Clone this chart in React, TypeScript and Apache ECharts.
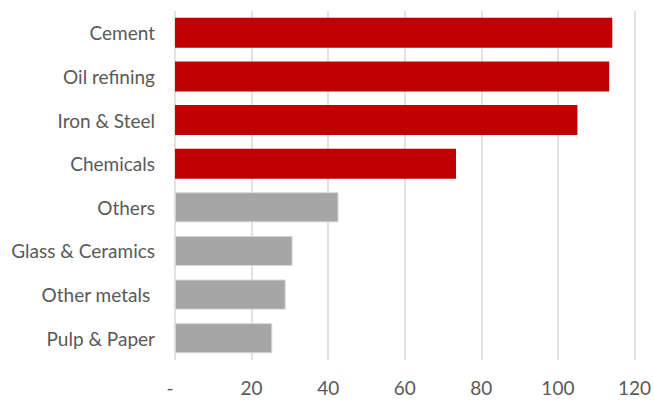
import React, { useEffect, useRef } from "react";
import * as echarts from "echarts";

const categories = [
  "Cement",
  "Oil refining",
  "Iron & Steel",
  "Chemicals",
  "Others",
  "Glass & Ceramics",
  "Other metals ",
  "Pulp & Paper",
];
const values = [114.2, 113.4, 105.1, 73.4, 42.7, 30.7, 28.9, 25.4];
const highlighted = [true, true, true, true, false, false, false, false];
const xTicks = { min: 0, max: 120, interval: 20 };

export default function App() {
  const ref = useRef<HTMLDivElement>(null);
  useEffect(() => {
    if (!ref.current) return;
    const chart = echarts.init(ref.current, null, { renderer: "svg" });
    chart.setOption({
      animation: false,
      backgroundColor: "#ffffff",
      grid: { left: 175, right: 18, top: 11, bottom: 41, containLabel: false },
      xAxis: {
        type: "value",
        min: xTicks.min,
        max: xTicks.max,
        interval: xTicks.interval,
        axisLine: { show: false },
        axisTick: { show: false },
        splitLine: { show: true, lineStyle: { color: "#d9d9d9", width: 1.5 } },
        axisLabel: {
          margin: 18,
          color: "#595959",
          fontFamily: "Lato",
          fontSize: 19,
          formatter: (v: number) => (v === 0 ? "-  " : String(v)),
        },
      },
      yAxis: {
        type: "category",
        data: categories,
        inverse: true,
        axisLine: { show: false },
        axisTick: { show: false },
        splitLine: { show: false },
        axisLabel: {
          margin: 20,
          color: "#595959",
          fontFamily: "Lato",
          fontSize: 19,
        },
      },
      series: [
        {
          type: "bar",
          barCategoryGap: "31%",
          data: values.map((v, i) => ({
            value: v,
            itemStyle: highlighted[i]
              ? { color: "#c00000" }
              : { color: "#a6a6a6", borderColor: "#d4d4d4", borderWidth: 1 },
          })),
        },
      ],
    });
    return () => chart.dispose();
  }, []);
  return (
    <div
      ref={ref}
      style={{ position: "fixed", left: 0, top: 0, width: 654, height: 401 }}
    />
  );
}
